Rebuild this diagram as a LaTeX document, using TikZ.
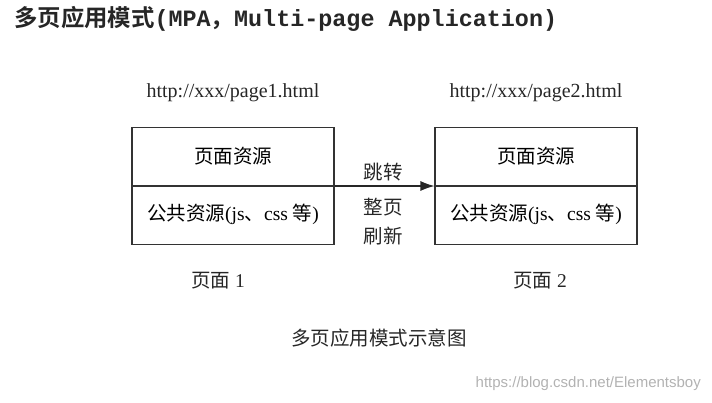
\documentclass[tikz,border=0pt]{standalone}
\usepackage{fontspec}
\setmainfont{Liberation Serif}
\newfontfamily\zh{Noto Sans CJK SC}
\newfontfamily\zhb{Noto Sans CJK SC Bold}
\newfontfamily\mono{Liberation Mono}
\newfontfamily\wm{Liberation Sans}
\usepackage{tikz}
\usetikzlibrary{arrows.meta}

\tikzset{
    part/.style={draw=black!80, line width=1.1pt, minimum width=202pt, minimum height=58pt,
                 inner sep=0pt, font=\fontsize{19.5}{21}\selectfont},
    lbl/.style={font=\fontsize{19.5}{21}\selectfont, inner sep=0pt, text=black!85}
}

\begin{document}
\begin{tikzpicture}[x=1pt, y=-1pt]
    \useasboundingbox (0,0) rectangle (712,402);

    % Title
    \node[anchor=west, inner sep=0pt, text=black!85] (title) at (14,19)
        {\fontsize{23.4}{25}\selectfont{\zhb 多页应用模式}{\mono\bfseries (MPA}{\zhb ，}{\mono\bfseries Multi-page Application)}};

    % Pages
    \foreach \n/\x/\nx in {1/233/218, 2/536/540} {
        \node[lbl, font=\fontsize{20}{22}\selectfont] (url\n) at (\x,93) {http://xxx/page\n.html};
        \node[part, anchor=south] (res\n) at (\x,186) {\zh 页面资源};
        \node[part, anchor=north] (pub\n) at (\x,186) {\raisebox{6pt}{{\zh 公共资源}(js{\zh 、}css {\zh 等})}};
        \node[lbl] (name\n) at (\nx,281) {{\zh 页面} \n};
    }

    % Jump
    \draw[-{Latex[length=14pt,width=10pt]}, line width=1.1pt, black!85] (res1.south east) -- (res2.south west);
    \node[lbl] (jump) at (383,172) {\zh 跳转};
    \node[lbl] (reload) at (383,224) {\zh\begin{tabular}{@{}c@{}}整页\\[6pt]刷新\end{tabular}};

    % Caption
    \node[lbl] (caption) at (379,338) {\zh 多页应用模式示意图};

    % Watermark
    \node[anchor=east, inner sep=0pt, text=black!30, font=\wm\fontsize{15}{17}\selectfont] (mark) at (701,384)
        {https://blog.csdn.net/Elementsboy};
\end{tikzpicture}
\end{document}
